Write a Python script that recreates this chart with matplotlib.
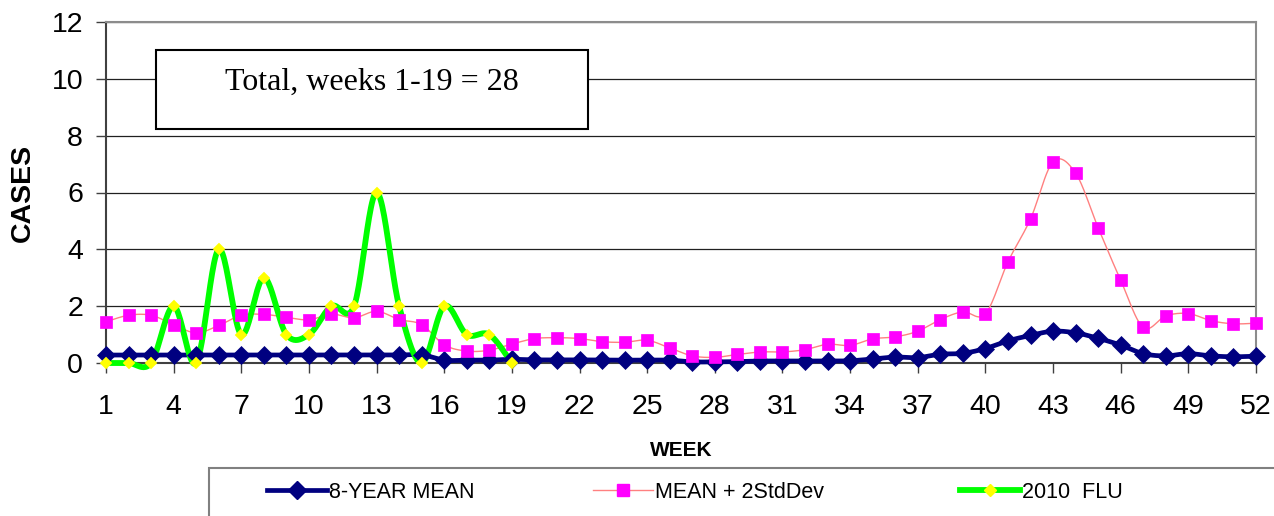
import numpy as np
import matplotlib
matplotlib.use("Agg")
import matplotlib.pyplot as plt
from matplotlib.lines import Line2D
from matplotlib.patches import Rectangle

plt.rcParams['font.family'] = ['Liberation Sans', 'DejaVu Sans']

# ---------------- data ----------------
weeks = list(range(1, 53))
mean_8yr = [0.28, 0.28, 0.28, 0.28, 0.28, 0.28, 0.28, 0.28, 0.28, 0.28,
            0.28, 0.28, 0.28, 0.28, 0.29, 0.10, 0.10, 0.10, 0.13, 0.11,
            0.11, 0.11, 0.10, 0.10, 0.10, 0.10, 0.04, 0.04, 0.05, 0.07,
            0.07, 0.07, 0.07, 0.08, 0.14, 0.21, 0.19, 0.31, 0.34, 0.51,
            0.78, 0.97, 1.12, 1.06, 0.87, 0.63, 0.33, 0.25, 0.33, 0.25,
            0.22, 0.24]
mean_2sd = [1.45, 1.68, 1.68, 1.35, 1.06, 1.32, 1.68, 1.71, 1.61, 1.52,
            1.72, 1.59, 1.82, 1.53, 1.35, 0.64, 0.42, 0.45, 0.67, 0.86,
            0.89, 0.86, 0.75, 0.73, 0.80, 0.53, 0.25, 0.20, 0.30, 0.39,
            0.39, 0.47, 0.66, 0.62, 0.85, 0.92, 1.12, 1.53, 1.80, 1.73,
            3.56, 5.07, 7.08, 6.68, 4.76, 2.91, 1.25, 1.66, 1.74, 1.49,
            1.38, 1.40]
flu_weeks = list(range(1, 20))
flu_2010 = [0, 0, 0, 2, 0, 4, 1, 3, 1, 1, 2, 2, 6, 2, 0, 2, 1, 1, 0]

x_ticks = list(range(1, 53, 3))
y_ticks = [0, 2, 4, 6, 8, 10, 12]
series_labels = ["8-YEAR MEAN", "MEAN + 2StdDev", "2010  FLU"]
box_text = "Total, weeks 1-19 = 28"
x_label = "WEEK"
y_label = "CASES"


def smooth(x, y, n=24):
    """Excel-style smoothed line (Bezier with Catmull-Rom control points)."""
    P = np.column_stack([x, y]).astype(float)
    Pe = np.vstack([P[0], P, P[-1]])
    segs = []
    for i in range(len(P) - 1):
        p0, p1, p2, p3 = Pe[i], Pe[i + 1], Pe[i + 2], Pe[i + 3]
        c1 = p1 + (p2 - p0) / 6.0
        c2 = p2 - (p3 - p1) / 6.0
        t = np.linspace(0, 1, n, endpoint=(i == len(P) - 2))[:, None]
        seg = ((1 - t) ** 3) * p1 + 3 * ((1 - t) ** 2) * t * c1 \
            + 3 * (1 - t) * (t ** 2) * c2 + (t ** 3) * p2
        segs.append(seg)
    S = np.vstack(segs)
    return S[:, 0], S[:, 1]


W, H = 1274, 516
fig = plt.figure(figsize=(W / 100, H / 100), dpi=100, facecolor='white')
ax_l, ax_r, ax_t, ax_b = 106, 1256, 22, 363
ax = fig.add_axes([ax_l / W, 1 - ax_b / H, (ax_r - ax_l) / W, (ax_b - ax_t) / H])

navy = '#000080'
pink_line = '#FF8080'
magenta = '#FF00FF'
green = '#00FF00'
yellow = '#FFFF00'

navy_lw, navy_ms = 3.4, 9.5
pink_ms = 8
flu_lw, flu_ms = 4.2, 6.2

# lines (drawn first, like Excel)
xs, ys = smooth(weeks, mean_8yr)
ax.plot(xs, ys, color=navy, lw=navy_lw, zorder=3, clip_on=False, solid_capstyle='butt')
xs, ys = smooth(weeks, mean_2sd)
ax.plot(xs, ys, color=pink_line, lw=1.0, zorder=3, clip_on=False)
xs, ys = smooth(flu_weeks, flu_2010)
ax.plot(xs, ys, color=green, lw=flu_lw, zorder=3, clip_on=False, solid_capstyle='butt')

# markers on top
ax.plot(weeks, mean_8yr, ls='none', marker='D', ms=navy_ms, mfc=navy, mec=navy,
        mew=0.5, zorder=4, clip_on=False)
ax.plot(weeks, mean_2sd, ls='none', marker='s', ms=pink_ms, mfc=magenta, mec=magenta,
        mew=0.5, zorder=4, clip_on=False)
ax.plot(flu_weeks, flu_2010, ls='none', marker='D', ms=flu_ms, mfc=yellow, mec=yellow,
        mew=0.3, zorder=5, clip_on=False)

ax.set_xlim(1, 52)
ax.set_ylim(0, 12)
ax.set_xticks(x_ticks)
ax.set_xticklabels([str(v) for v in x_ticks])
ax.set_yticks(y_ticks)
ax.set_yticklabels([str(v) for v in y_ticks])
ax.tick_params(axis='both', direction='out', length=7, width=1.0, color='#404040',
               labelsize=20.5, labelcolor='black')
ax.tick_params(axis='y', pad=9.5)
ax.tick_params(axis='x', pad=15.5)

ax.yaxis.grid(True, color='#202020', lw=0.9)
ax.set_axisbelow(True)
for side in ['left', 'bottom']:
    ax.spines[side].set_color('#404040')
    ax.spines[side].set_linewidth(1.5)
for side in ['top', 'right']:
    ax.spines[side].set_color('#8c8c8c')
    ax.spines[side].set_linewidth(1.5)

# text box
bx0 = (156 - ax_l) / (ax_r - ax_l)
bx1 = (588 - ax_l) / (ax_r - ax_l)
by0 = (ax_b - 129) / (ax_b - ax_t)
by1 = (ax_b - 50) / (ax_b - ax_t)
ax.add_patch(Rectangle((bx0, by0), bx1 - bx0, by1 - by0, transform=ax.transAxes,
                       facecolor='white', edgecolor='black', lw=1.5, zorder=6))
ax.text((371.5 - ax_l) / (ax_r - ax_l), (ax_b - 90) / (ax_b - ax_t), box_text,
        transform=ax.transAxes, ha='center', va='baseline', fontsize=23,
        family=['Liberation Serif', 'DejaVu Serif'], zorder=7)

# axis titles
fig.text(681 / W, 1 - 451 / H, x_label, ha='center', va='center',
         fontsize=15, fontweight='bold')
fig.text(23 / W, 1 - 192.5 / H, y_label, ha='center', va='center',
         rotation=90, fontsize=20.5, fontweight='bold')

# legend frame
fig.add_artist(Rectangle((209 / W, -0.2), 1.0, (516 - 468) / H + 0.2,
                         transform=fig.transFigure, fill=False,
                         edgecolor='#808080', lw=1.5))
handles = [
    Line2D([], [], color=navy, lw=navy_lw, marker='D', ms=navy_ms, mfc=navy, mec=navy),
    Line2D([], [], color=pink_line, lw=1.0, marker='s', ms=pink_ms, mfc=magenta, mec=magenta),
    Line2D([], [], color=green, lw=flu_lw, marker='D', ms=flu_ms, mfc=yellow, mec=yellow),
]
leg_x = [267, 593, 960]
fs = 15.5
for h, lab, lx in zip(handles, series_labels, leg_x):
    fig.legend(handles=[h], labels=[lab], loc='center left',
               bbox_to_anchor=(lx / W, 1 - 492 / H), frameon=False,
               fontsize=fs, handlelength=60 / (fs * 100 / 72),
               handletextpad=0.1, borderpad=0, borderaxespad=0, numpoints=1)

fig.savefig('out.png', dpi=100, facecolor='white')
